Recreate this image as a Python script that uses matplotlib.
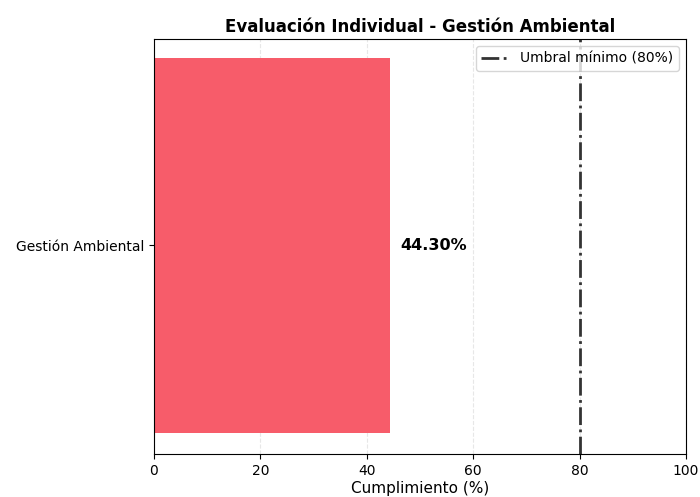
import matplotlib.pyplot as plt

categorias = ['Gestión Ambiental']
cumplimiento = [44.30]
umbral = 80
xticks = [0, 20, 40, 60, 80, 100]

fig, ax = plt.subplots(figsize=(7, 4.97), dpi=100)
fig.subplots_adjust(left=0.22, right=0.98, top=0.9215, bottom=0.0865)

bars = ax.barh(categorias, cumplimiento, height=0.8, color='#f75c6a')
ax.axvline(umbral, color='#333333', linestyle='-.', linewidth=2, label='Umbral mínimo (80%)')

for bar, val in zip(bars, cumplimiento):
    ax.text(val + 2, bar.get_y() + bar.get_height() / 2, f'{val:.2f}%',
            ha='left', va='center', fontsize=11.5, fontweight='bold')

ax.set_xlim(0, 100)
ax.set_ylim(-0.445, 0.44)
ax.set_xticks(xticks)
ax.tick_params(labelsize=10)
ax.grid(axis='x', linestyle='--', alpha=0.3)
ax.set_axisbelow(True)
ax.set_xlabel('Cumplimiento (%)', fontsize=11, labelpad=2)
ax.set_title('Evaluación Individual - Gestión Ambiental', fontsize=12, fontweight='bold', pad=5)
ax.legend(loc='upper right', fontsize=10)

plt.savefig('out.png')
